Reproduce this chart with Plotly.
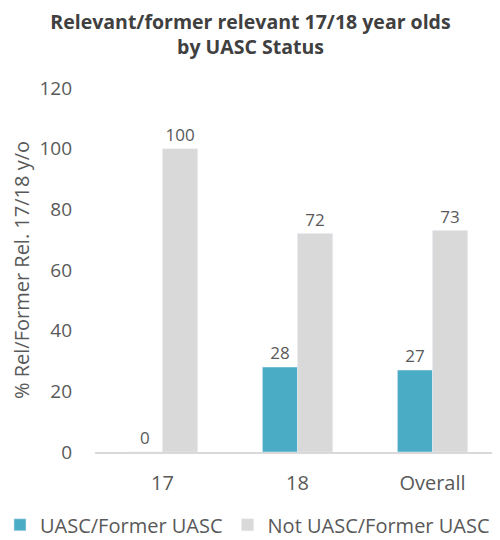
import plotly.graph_objects as go

categories = ["17", "18", "Overall"]
uasc = [0, 28, 27]
not_uasc = [100, 72, 73]
series_names = ["UASC/Former UASC", "Not UASC/Former UASC"]
y_ticks = [0, 20, 40, 60, 80, 100, 120]

FONT = "Open Sans, Segoe UI, sans-serif"
GRAY_TXT = "#595959"

fig = go.Figure()
fig.add_trace(go.Bar(
    x=categories, y=uasc, name=series_names[0],
    marker=dict(color="#4BACC6"),
    text=[str(v) for v in uasc], textposition="outside", cliponaxis=False,
    textfont=dict(size=17, color=GRAY_TXT, family=FONT),
))
fig.add_trace(go.Bar(
    x=categories, y=not_uasc, name=series_names[1],
    marker=dict(color="#D9D9D9"),
    text=[str(v) for v in not_uasc], textposition="outside", cliponaxis=False,
    textfont=dict(size=17, color=GRAY_TXT, family=FONT),
))

fig.update_layout(
    width=500, height=540,
    paper_bgcolor="white", plot_bgcolor="white",
    margin=dict(l=87, r=8, t=80, b=96, autoexpand=False),
    barmode="group", bargap=0.48, bargroupgap=0,
    font=dict(family=FONT, color=GRAY_TXT),
    title=dict(
        text="<b>Relevant/former relevant 17/18 year olds<br>by UASC Status</b>",
        x=0.485, xanchor="center", y=0.962, yanchor="top",
        font=dict(size=19.5, color="#404040", family=FONT),
    ),
    xaxis=dict(
        showline=True, linecolor="#D9D9D9", linewidth=2,
        showgrid=False, ticks="", tickfont=dict(size=20, color=GRAY_TXT),
        ticklabelstandoff=12,
    ),
    yaxis=dict(
        range=[0, 120], tickvals=y_ticks, showgrid=False, zeroline=False,
        showline=False, ticks="", ticklabelstandoff=22,
        tickfont=dict(size=19, color=GRAY_TXT),
        title=dict(text="% Rel/Former Rel. 17/18 y/o",
                   font=dict(size=20, color=GRAY_TXT), standoff=14),
    ),
    legend=dict(
        orientation="h", x=-0.2346, xanchor="left", y=-0.2, yanchor="middle",
        font=dict(size=20, color=GRAY_TXT), traceorder="normal",
        itemwidth=30,
    ),
)

fig.write_html("out.html")
